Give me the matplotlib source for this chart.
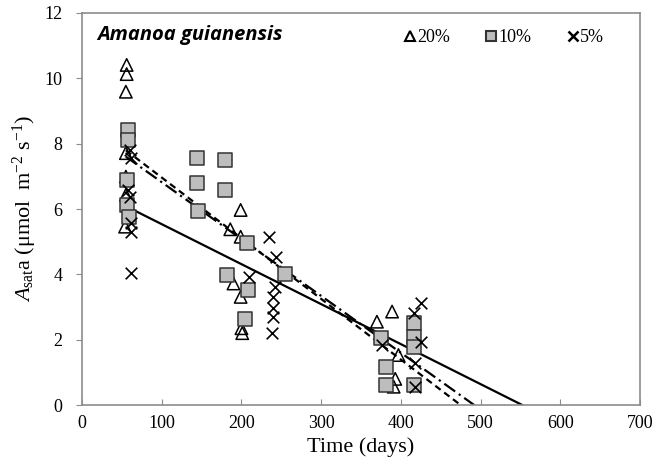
import matplotlib
matplotlib.use("Agg")
import matplotlib.pyplot as plt
import numpy as np
from matplotlib.lines import Line2D

plt.rcParams['mathtext.fontset'] = 'custom'
plt.rcParams['mathtext.rm'] = 'Liberation Serif'
plt.rcParams['mathtext.it'] = 'Liberation Serif:italic'

# 20% light
t20_x = [56, 56, 55, 55, 55, 55, 54, 199, 186, 199, 190, 199, 200, 201, 389, 370, 397, 391, 393]
t20_y = [10.41, 10.13, 9.59, 7.71, 6.99, 6.43, 5.46, 5.97, 5.38, 5.15, 3.72, 3.31, 2.35, 2.2, 2.86, 2.55, 1.53, 0.56, 0.8]
# 10% light
t10_x = [58, 58, 57, 56, 59, 144, 144, 179, 179, 146, 207, 182, 208, 255, 205, 375, 417, 417, 417, 382, 382, 417]
t10_y = [8.42, 8.11, 6.89, 6.12, 5.76, 7.55, 6.80, 7.5, 6.58, 5.95, 4.97, 3.98, 3.52, 4.0, 2.63, 2.04, 2.5, 2.09, 1.78, 1.17, 0.61, 0.61]
# 5% light
t5_x = [60, 62, 58, 60, 62, 62, 62, 235, 243, 209, 242, 240, 240, 240, 238, 425, 417, 425, 418, 376, 418]
t5_y = [7.8, 7.56, 6.58, 6.38, 5.57, 5.30, 4.04, 5.15, 4.54, 3.93, 3.62, 3.31, 2.96, 2.70, 2.19, 3.11, 2.81, 1.94, 1.28, 1.84, 0.56]

# regression lines: intercept, slope, start day
fit_intercepts = [6.76, 8.82, 8.56]
fit_slopes = [-0.01224, -0.01857, -0.01740]
fit_start = [52, 55, 55]
fit_styles = ['-', (0, (3, 2)), (0, (6, 2, 1, 2))]

fig = plt.figure(figsize=(6.68, 4.71), dpi=100)
ax = fig.add_axes([0.1228, 0.1401, 0.958 - 0.1228, 0.9724 - 0.1401])

for a, b, s, ls in zip(fit_intercepts, fit_slopes, fit_start, fit_styles):
    xe = -a / b
    xs = np.array([s, xe])
    ax.plot(xs, a + b * xs, color='black', lw=1.6, linestyle=ls, zorder=2)

ax.scatter(t20_x, t20_y, marker='^', s=80, facecolors='none', edgecolors='black', linewidths=1.1, zorder=3)
ax.scatter(t10_x, t10_y, marker='s', s=90, facecolors='#bdbdbd', edgecolors='#333333', linewidths=1.1, zorder=3)
ax.scatter(t5_x, t5_y, marker='x', s=70, color='black', linewidths=1.2, zorder=3)

ax.set_xlim(0, 700)
ax.set_ylim(0, 12)
ax.set_xticks(np.arange(0, 701, 100))
ax.set_yticks(np.arange(0, 13, 2))
for sp in ax.spines.values():
    sp.set_color('#8c8c8c')
    sp.set_linewidth(1.2)
ax.tick_params(axis='x', direction='in', length=4, color='#8c8c8c', pad=7)
ax.tick_params(axis='y', direction='out', length=4, color='#8c8c8c', pad=10)
for lab in ax.get_xticklabels() + ax.get_yticklabels():
    lab.set_fontfamily('Liberation Serif')
    lab.set_fontsize(13)

ax.set_xlabel('Time (days)', fontfamily='Liberation Serif', fontsize=16, labelpad=4)
ax.set_ylabel(r'$\mathit{A}_{\mathrm{sat}}\mathrm{a\ (\mu mol\ \ m^{-2}\ s^{-1})}$', fontsize=16, labelpad=4)

ax.text(0.027, 0.945, 'Amanoa guianensis', transform=ax.transAxes, fontsize=14.5,
        fontweight='bold', fontstyle='italic', fontfamily='Open Sans', va='center', ha='left')

handles = [
    Line2D([], [], marker='^', ls='none', markerfacecolor='none', markeredgecolor='black', markersize=7, markeredgewidth=1.5),
    Line2D([], [], marker='s', ls='none', markerfacecolor='#bdbdbd', markeredgecolor='#333333', markersize=7, markeredgewidth=1.5),
    Line2D([], [], marker='x', ls='none', color='black', markersize=7, markeredgewidth=1.8),
]
leg = ax.legend(handles, ['20%', '10%', '5%'], loc='upper right', bbox_to_anchor=(0.965, 1.0),
                ncol=3, frameon=False, handlelength=0.6, handletextpad=0.1, columnspacing=2.0,
                prop={'family': 'Liberation Serif', 'size': 13})

fig.savefig('out.png', dpi=100)
